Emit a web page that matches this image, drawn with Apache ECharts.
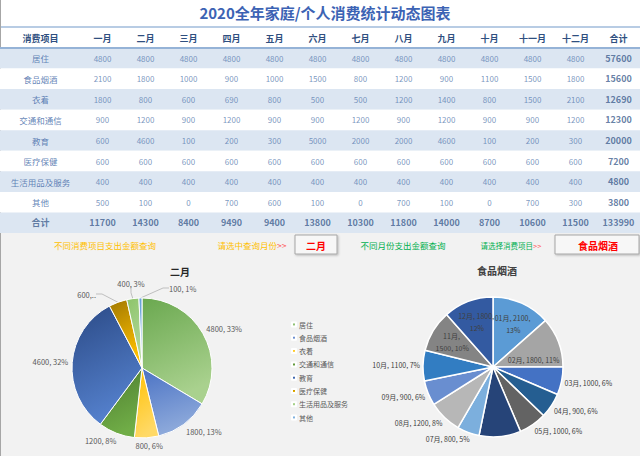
<!DOCTYPE html>
<html><head><meta charset="utf-8">
<script src="https://cdn.jsdelivr.net/npm/echarts@6/dist/echarts.min.js"></script>
<style>html,body{margin:0;padding:0;background:#fff}#c{width:640px;height:456px}</style>
</head><body><div id="c"></div>
<script>
const FONT = '"Noto Sans CJK SC", "Noto Sans", sans-serif';
// ---- data ----
const months = ['一月','二月','三月','四月','五月','六月','七月','八月','九月','十月','十一月','十二月'];
const monthShort = ['01月','02月','03月','04月','05月','06月','07月','08月','09月','10月','11月','12月'];
const items = ['居住','食品烟酒','衣着','交通和通信','教育','医疗保健','生活用品及服务','其他'];
const housing   = [4800,4800,4800,4800,4800,4800,4800,4800,4800,4800,4800,4800];
const food      = [2100,1800,1000,900,1000,1500,800,1200,900,1100,1500,1800];
const clothing  = [1800,800,600,690,800,500,500,1200,1400,800,1500,2100];
const transport = [900,1200,900,1200,900,900,1200,900,1200,900,900,1200];
const education = [600,4600,100,200,300,5000,2000,2000,4600,100,200,300];
const medical   = [600,600,600,600,600,600,600,600,600,600,600,600];
const household = [400,400,400,400,400,400,400,400,400,400,400,400];
const other     = [500,100,0,700,600,100,0,700,100,0,700,300];
const itemTotals  = [57600,15600,12690,12300,20000,7200,4800,3800];
const monthTotals = [11700,14300,8400,9490,9400,13800,10300,11800,14000,8700,10600,11500];
const grandTotal  = 133990;
const headerFirst = '消费项目';
const totalLabel  = '合计';
const selMonth = 1;   // 二月
const selItem  = 1;   // 食品烟酒

// ---- styles ----
const leftColors = [
  ['#6aa84f','#a9d18e'], ['#4a72c4','#8eaadb'], ['#ffc000','#ffd966'], ['#4e7d2f','#70ad47'],
  ['#2b4a86','#5480cc'], ['#a07800','#ffc000'], ['#8cc46a','#b3d89a'], ['#5b9bd5','#9dc3e6']
];
const rightColors = ['#5b9bd5','#a5a5a5','#4472c4','#255e91','#636363','#264478','#7cafdd','#b7b7b7','#698ed0','#327dc2','#848484','#335aa1'];
const grad = c => ({type:'linear', x:0, y:0, x2:0.3, y2:1, colorStops:[{offset:0,color:c[0]},{offset:1,color:c[1]}]});

const tableRows = [housing, food, clothing, transport, education, medical, household, other];
const rowNames = items.concat([totalLabel]);
const colNames = months.concat([totalLabel]);

const boldLabel = {fontWeight:'bold', fontSize:9, color:'#3f5f8f'};
const cells = [];
tableRows.forEach((row, r) => {
  row.forEach((v, c) => cells.push({value:[c, r, v]}));
  cells.push({value:[months.length, r, itemTotals[r]], label: boldLabel});
});
monthTotals.forEach((v, c) => cells.push({value:[c, items.length, v], label: boldLabel}));
cells.push({value:[months.length, items.length, grandTotal], label: boldLabel});

const nameCells = rowNames.map((n, i) => i === items.length
  ? {value:[0, i], name:n, label: boldLabel}
  : {value:[0, i], name:n});

// whole-number percentages (largest remainder, ties to the later slice)
function pcts(vals) {
  const tot = vals.reduce((a, b) => a + b, 0);
  const raw = vals.map(v => v / tot * 100);
  const out = raw.map(Math.floor);
  let left = 100 - out.reduce((a, b) => a + b, 0);
  const order = raw.map((v, i) => i).sort((a, b) => (raw[b] - Math.floor(raw[b])) - (raw[a] - Math.floor(raw[a])) || b - a);
  for (let k = 0; k < left; k++) out[order[k]]++;
  return out;
}
function midAngles(vals) {
  const tot = vals.reduce((a, b) => a + b, 0);
  let cum = 0;
  return vals.map(v => { const a = (cum + v / 2) / tot * 2 * Math.PI; cum += v; return a; });
}
const clamp = v => Math.max(-1, Math.min(1, v));
function outsideEnd(p, cx, cy, r, ang, d) {
  const ux = Math.sin(ang), uy = -Math.cos(ang);
  const w = p.labelRect.width, h = p.labelRect.height;
  return {x: cx + (r + d) * ux + w / 2 * clamp(ux * 2.5),
          y: cy + (r + d) * uy + h / 2 * clamp(uy * 1.8),
          align:'center', verticalAlign:'middle'};
}

const LC = [142, 368], RC = [493, 367], PR = 70;

const leftVals = tableRows.map(row => row[selMonth]);
const leftPct = pcts(leftVals);
const leftAng = midAngles(leftVals);
const leftTotal = leftVals.reduce((a, b) => a + b, 0);
const leftData = items.map((n, i) => {
  const v = leftVals[i];
  const small = v / leftTotal < 0.05;
  return {name:n, value:v, itemStyle:{color: grad(leftColors[i])},
          labelLine:{show: small},
          label: i === 5 ? {width:20, overflow:'truncate', ellipsis:'..'} : {}};
});
// best-fit spots for the three thin slices near the top
const leftSmallSpots = {5:{x:96, y:294, align:'right'}, 6:{x:131, y:283, align:'center'}, 7:{x:169, y:288, align:'left'}};

const rightVals = tableRows[selItem];
const rightPct = pcts(rightVals);
const rightAng = midAngles(rightVals);
const insideWidth = {0:44, 1:null, 10:36, 11:44};
const rightData = monthShort.map((m, i) => ({
  name:m, value:rightVals[i], itemStyle:{color: rightColors[i]},
  label: i === 5 ? {show:false}
       : (i in insideWidth ? (insideWidth[i] ? {position:'inside', width:insideWidth[i], overflow:'break', lineHeight:12} : {position:'inside'}) : {})
}));

const yAxisBase = {
  type:'category', inverse:true, data: rowNames,
  axisLine:{show:false}, axisTick:{show:false}, axisLabel:{show:false},
  splitArea:{show:true, areaStyle:{color:['#dce6f2','#ffffff']}}
};
const xAxisBase = {
  type:'category', position:'top',
  axisLine:{show:true, lineStyle:{color:'#95b3d7', width:2}}, axisTick:{show:false},
  axisLabel:{fontFamily:FONT, fontSize:9, fontWeight:'bold', color:'#2f4f80', margin:5, interval:0},
  splitLine:{show:false}
};

const chart = echarts.init(document.getElementById('c'), null, {renderer:'svg'});
chart.setOption({
  backgroundColor:'#ffffff',
  textStyle:{fontFamily:FONT},
  animation:false,
  title:[
    {text:'2020全年家庭/个人消费统计动态图表', left:320, top:0, textAlign:'center',
     textStyle:{fontFamily:FONT, fontSize:15, fontWeight:'bold', color:'#3c63b4'}},
    {text: months[selMonth], left:175, top:261, textAlign:'center',
     textStyle:{fontFamily:FONT, fontSize:10, fontWeight:'bold', color:'#262626'}},
    {text: items[selItem], left:492, top:260, textAlign:'center',
     textStyle:{fontFamily:FONT, fontSize:10, fontWeight:'bold', color:'#404040'}}
  ],
  grid:[
    {left:0, top:48, width:81, height:185},
    {left:81, top:48, right:0, height:185}
  ],
  xAxis:[
    Object.assign({}, xAxisBase, {gridIndex:0, data:[headerFirst]}),
    Object.assign({}, xAxisBase, {gridIndex:1, data:colNames})
  ],
  yAxis:[
    Object.assign({}, yAxisBase, {gridIndex:0}),
    Object.assign({}, yAxisBase, {gridIndex:1})
  ],
  legend:{
    orient:'vertical', left:286, top:316, itemWidth:4, itemHeight:4, itemGap:6.3, icon:'rect',
    data: items, textStyle:{fontFamily:FONT, fontSize:7, color:'#595959', padding:[0,0,0,-2]}, selectedMode:false
  },
  graphic:[
    {type:'rect', silent:true, z:-1, shape:{x:0, y:233, width:640, height:223}, style:{fill:'#f2f2f2'}},
    {type:'rect', silent:true, shape:{x:0, y:26, width:640, height:2}, style:{fill:'#b8cce4'}},
    {type:'rect', silent:true, shape:{x:0, y:0, width:1, height:456}, style:{fill:'#a6a6a6'}},
    {type:'text', silent:true, style:{text:'不同消费项目支出金额查询', x:105, y:245, align:'center', verticalAlign:'middle', textAlign:'center', textVerticalAlign:'middle', fill:'#ffc000', font:'8.5px ' + FONT}},
    {type:'text', silent:true, style:{text:'{a|请选中查询月份}{b|>>}', x:252, y:245, align:'center', verticalAlign:'middle', textAlign:'center', textVerticalAlign:'middle',
      rich:{a:{fill:'#ffc000', fontSize:8.5, fontFamily:FONT}, b:{fill:'#ff5a5a', fontSize:8.5, fontFamily:FONT}}}},
    {type:'rect', silent:true, shape:{x:295, y:235, width:42, height:19}, style:{fill:'#f7f7f7', stroke:'#a6a6a6', lineWidth:1, shadowBlur:2, shadowColor:'rgba(0,0,0,0.25)', shadowOffsetX:1, shadowOffsetY:1}},
    {type:'text', silent:true, style:{text: months[selMonth], x:316, y:245, align:'center', verticalAlign:'middle', textAlign:'center', textVerticalAlign:'middle', fill:'#ff0000', font:'bold 10px ' + FONT}},
    {type:'text', silent:true, style:{text:'不同月份支出金额查询', x:403, y:245, align:'center', verticalAlign:'middle', textAlign:'center', textVerticalAlign:'middle', fill:'#00b050', font:'8.5px ' + FONT}},
    {type:'text', silent:true, style:{text:'{a|请选择消费项目}{b|>>}', x:511, y:245, align:'center', verticalAlign:'middle', textAlign:'center', textVerticalAlign:'middle',
      rich:{a:{fill:'#00b050', fontSize:7.5, fontFamily:FONT}, b:{fill:'#ff5a5a', fontSize:7.5, fontFamily:FONT}}}},
    {type:'rect', silent:true, shape:{x:555, y:235, width:84, height:19}, style:{fill:'#f7f7f7', stroke:'#a6a6a6', lineWidth:1, shadowBlur:2, shadowColor:'rgba(0,0,0,0.25)', shadowOffsetX:1, shadowOffsetY:1}},
    {type:'text', silent:true, style:{text: items[selItem], x:598, y:245, align:'center', verticalAlign:'middle', textAlign:'center', textVerticalAlign:'middle', fill:'#ff0000', font:'bold 10px ' + FONT}}
  ],
  series:[
    {type:'scatter', xAxisIndex:0, yAxisIndex:0, silent:true, symbol:'rect', symbolSize:1,
     itemStyle:{color:'rgba(0,0,0,0)'}, data:nameCells,
     label:{show:true, position:'inside', formatter:p => p.name, fontFamily:FONT, fontSize:8.5, color:'#3d66a6'}},
    {type:'scatter', xAxisIndex:1, yAxisIndex:1, silent:true, symbol:'rect', symbolSize:1,
     itemStyle:{color:'rgba(0,0,0,0)'}, data:cells,
     label:{show:true, position:'inside', formatter:p => String(p.value[2]), fontFamily:FONT, fontSize:8, color:'#5a7db0'}},
    {type:'pie', name:'month', center:LC, radius:PR, startAngle:90, clockwise:true,
     avoidLabelOverlap:false, data:leftData,
     itemStyle:{borderColor:'#ffffff', borderWidth:1},
     label:{formatter:p => p.value + ', ' + leftPct[p.dataIndex] + '%', fontFamily:FONT, fontSize:7.5, color:'#595959'},
     labelLine:{length:4, length2:6, lineStyle:{color:'#bfbfbf', width:1}},
     labelLayout: function (p) {
       if (leftSmallSpots[p.dataIndex]) return Object.assign({verticalAlign:'middle'}, leftSmallSpots[p.dataIndex]);
       return outsideEnd(p, LC[0], LC[1], PR, leftAng[p.dataIndex], 4);
     }},
    {type:'pie', name:'item', center:RC, radius:PR, startAngle:90, clockwise:true,
     avoidLabelOverlap:false, data:rightData,
     itemStyle:{borderColor:'#ffffff', borderWidth:1.5},
     label:{formatter:p => p.name + ', ' + p.value + ', ' + rightPct[p.dataIndex] + '%', fontFamily:FONT, fontSize:7, color:'#404040'},
     labelLine:{show:false, length:3, length2:2},
     labelLayout: function (p) {
       const a = rightAng[p.dataIndex];
       if (p.dataIndex in insideWidth) {
         const f = p.dataIndex === 1 ? 0.62 : 0.68;
         return {x: RC[0] + PR * f * Math.sin(a), y: RC[1] - PR * f * Math.cos(a) + (p.dataIndex === 1 ? 8 : 0), align:'center', verticalAlign:'middle'};
       }
       return outsideEnd(p, RC[0], RC[1], PR, a, 3);
     }}
  ]
});
</script>
</body></html>
